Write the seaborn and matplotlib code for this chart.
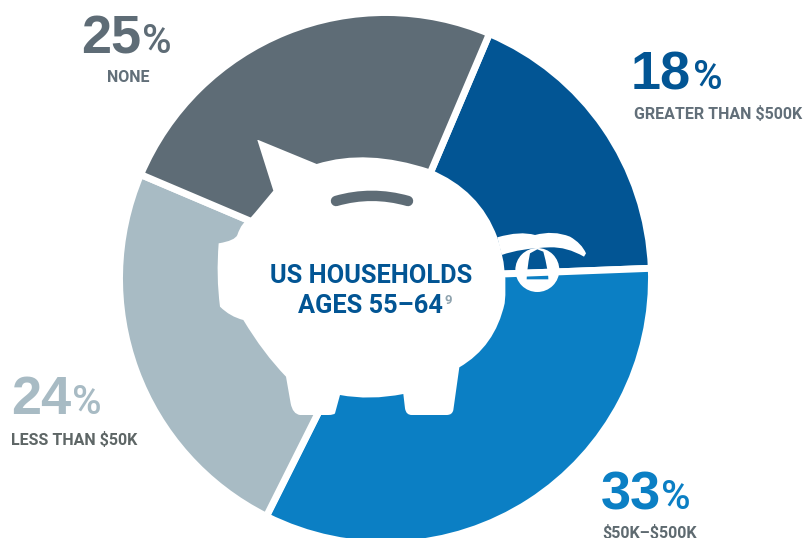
import matplotlib
matplotlib.use("Agg")
import matplotlib.pyplot as plt
import seaborn as sns
from matplotlib.patches import PathPatch
from matplotlib.path import Path
from matplotlib.transforms import Affine2D

W, H = 806, 538

# Retirement savings shares, clockwise from the upper right
categories = [r"GREATER THAN \$500K", r"\$50K–\$500K", r"LESS THAN \$50K", "NONE"]
shares = [18, 33, 24, 25]
colors = ["#025594", "#0b7fc4", "#a8bbc4", "#5e6c76"]
number_colors = ["#025594", "#0b7fc4", "#a8bbc4", "#5e6c76"]
caption_colors = ["#626f79", "#5e6a70", "#5e6666", "#626f79"]

# Label anchors in pixels from the top left: number x, number baseline,
# percent-sign x, caption x, caption baseline, caption alignment
anchors = [
    (631, 89, 693, 634, 119, "left"),
    (601, 509, 661, 602, 537.5, "left"),
    (11, 414, 72, 11, 445, "left"),
    (81, 53, 142, 128, 82, "center"),
]

sns.set_theme(style="white")
fig = plt.figure(figsize=(W / 100, H / 100), dpi=100)
ax = fig.add_axes([0, 0, 1, 1])

ax.pie(
    shares,
    colors=sns.color_palette(colors),
    startangle=67,
    counterclock=False,
    center=(385.5, H - 278.5),
    radius=266,
    wedgeprops={"edgecolor": "white", "linewidth": 5},
)
ax.set_xlim(0, W)
ax.set_ylim(0, H)
ax.set_aspect("equal")
ax.axis("off")

# Piggy bank drawn on a 3x local grid whose origin sits at pixel (200, 120)
to_axes = Affine2D().scale(1 / 3, -1 / 3).translate(200, H - 120) + ax.transData


def outline(start, segments):
    verts, codes = [start], [Path.MOVETO]
    for seg in segments:
        if len(seg) == 1:
            verts += seg
            codes += [Path.LINETO]
        else:
            verts += seg
            codes += [Path.CURVE3, Path.CURVE3]
    verts.append(start)
    codes.append(Path.CLOSEPOLY)
    return Path(verts, codes)


body = outline(
    (175, 60),
    [
        [(350, 132)],
        [(500, 85), (690, 148)],
        [(840, 210), (892, 352)],
        [(925, 450), (914, 550)],
        [(885, 680), (778, 742)],
        [(760, 870)],
        [(757, 885), (740, 885)],
        [(635, 885)],
        [(618, 885), (615, 865)],
        [(610, 822)],
        [(510, 842), (420, 825)],
        [(405, 880)],
        [(402, 885), (385, 885)],
        [(300, 885)],
        [(278, 882), (272, 850)],
        [(258, 770)],
        [(190, 700), (130, 600)],
        [(90, 590), (60, 560)],
        [(48, 470), (56, 370)],
        [(105, 362), (112, 345)],
        [(125, 305), (150, 295)],
        [(165, 278)],
        [(220, 212)],
        [(172, 60)],
    ],
)
ax.add_patch(PathPatch(body, facecolor="white", edgecolor="none", transform=to_axes, zorder=3))

tail = outline(
    (892, 352),
    [
        [(960, 332), (1005, 345)],
        [(1060, 330), (1110, 350)],
        [(1145, 370), (1158, 400)],
        [(1152, 410)],
        [(1100, 380), (1050, 382)],
        [(960, 385), (905, 405)],
    ],
)
ax.add_patch(PathPatch(tail, facecolor="white", edgecolor="none", transform=to_axes, zorder=3))

# Curl of the tail: a ring with a teardrop opening
ring_outer = Path.circle((1012, 450), 66)
ring_hole = outline(
    (1012, 388),
    [
        [(1030, 395), (1045, 450)],
        [(1045, 478), (1012, 478)],
        [(980, 478), (980, 450)],
        [(990, 400), (1012, 388)],
    ],
)
ring = Path.make_compound_path(
    ring_outer,
    Path(ring_hole.vertices[::-1], [Path.MOVETO] + list(ring_hole.codes[1:-1]) + [Path.CLOSEPOLY]),
)
ax.add_patch(PathPatch(ring, facecolor="white", edgecolor="none", transform=to_axes, zorder=3))

# Coin slot
slot = Path([(408, 243), (515, 212), (624, 243)], [Path.MOVETO, Path.CURVE3, Path.CURVE3])
ax.add_patch(
    PathPatch(slot, facecolor="none", edgecolor="#5e6c76", linewidth=7.5, capstyle="round",
              transform=to_axes, zorder=4)
)


def label(x, y, text, **kw):
    ax.text(x, H - y, text, va="baseline", zorder=5, **kw)


for share, num_c, cap_c, cat, (nx, ny, px, cx, cy, ha) in zip(
    shares, number_colors, caption_colors, categories, anchors
):
    label(nx, ny, str(share), color=num_c, family="Liberation Sans", weight="bold", fontsize=39)
    label(px, ny, "%", color=num_c, family="Roboto", weight="medium", fontsize=29)
    label(cx, cy, cat, color=cap_c, family="Roboto", weight="bold", fontsize=11.5, ha=ha)

label(371, 283, "US HOUSEHOLDS", color="#025594", family="Roboto", weight="bold", fontsize=18.3, ha="center")
label(298, 313, "AGES 55–64", color="#025594", family="Roboto", weight="bold", fontsize=18.3)
label(444.5, 304, "9", color="#8fa3ae", family="Roboto", weight="bold", fontsize=9.5)

fig.savefig("out.png", dpi=100)
